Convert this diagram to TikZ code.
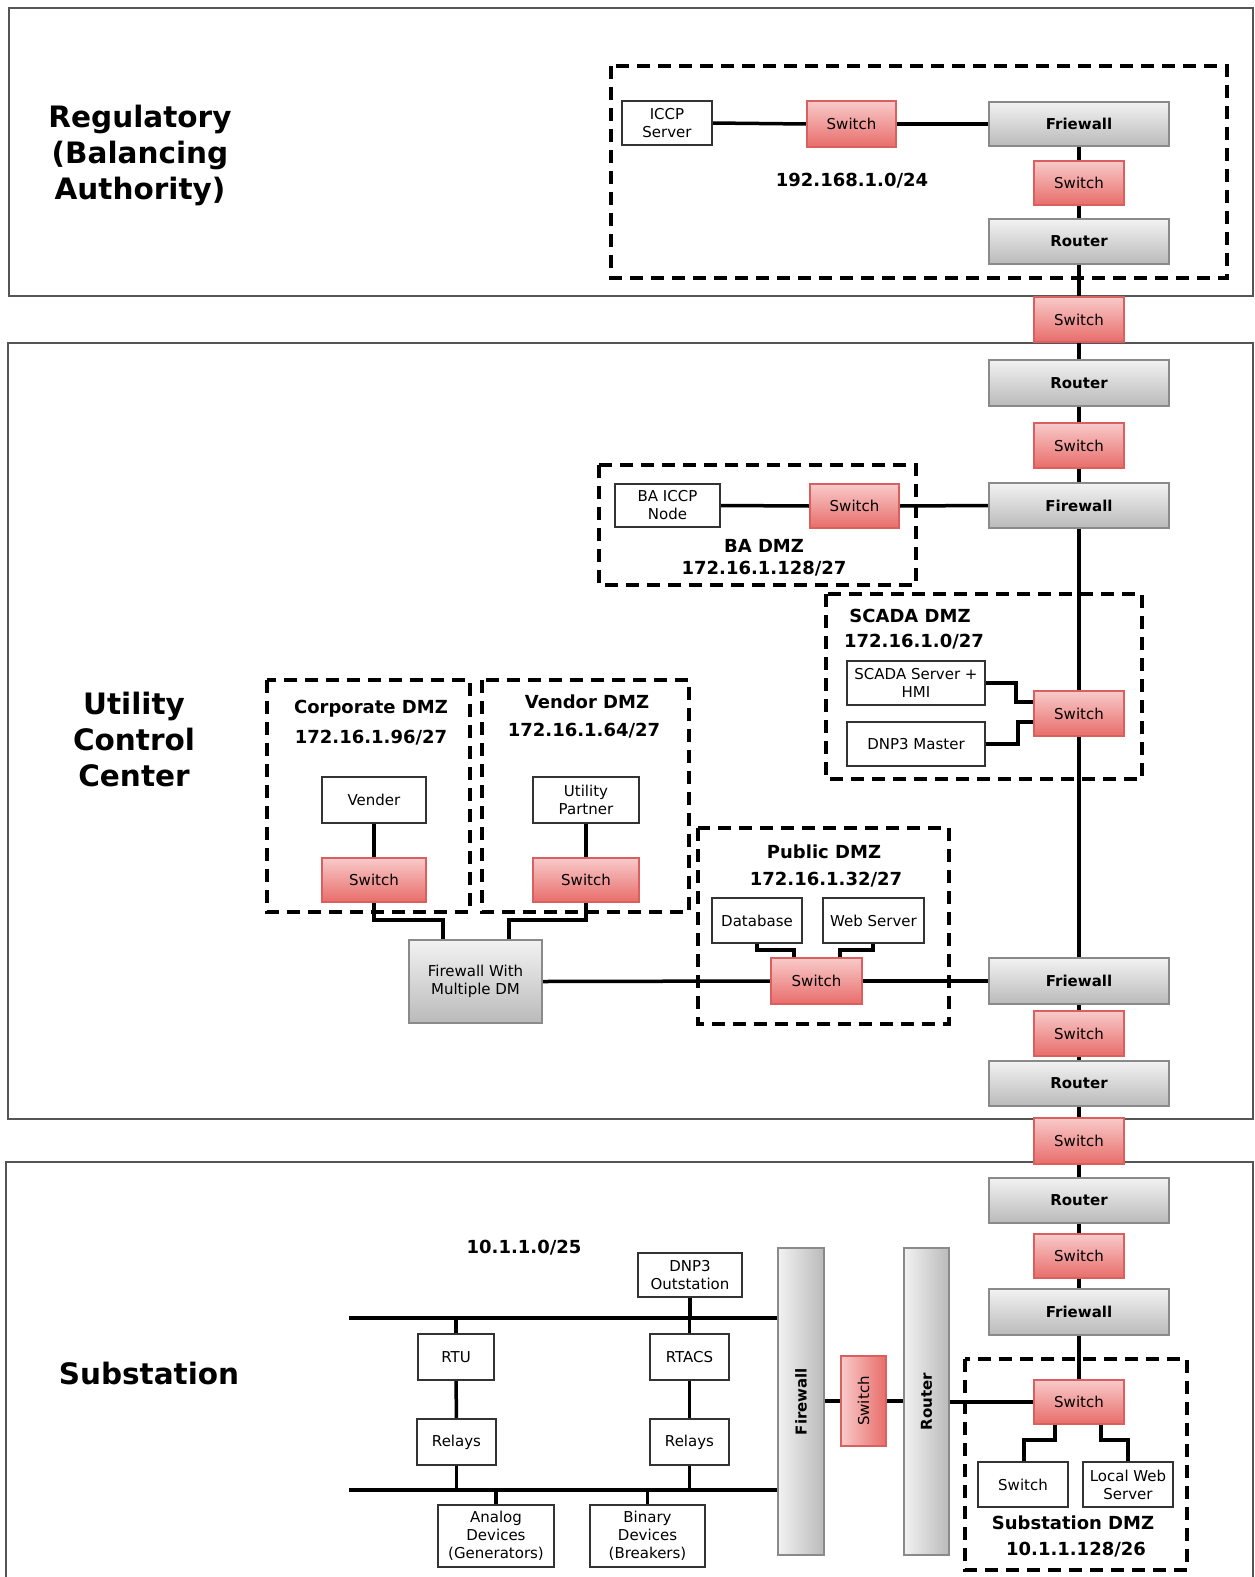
\documentclass[tikz,border=0pt]{standalone}
\usepackage{fontspec}
\setmainfont{DejaVu Sans}
\usetikzlibrary{calc}
\definecolor{boxline}{HTML}{333333}
\definecolor{redline}{HTML}{D9605E}
\definecolor{redtop}{HTML}{F8CACA}
\definecolor{redbot}{HTML}{E86D6A}
\definecolor{grayline}{HTML}{8A8A8A}
\definecolor{graytop}{HTML}{F2F2F2}
\definecolor{graybot}{HTML}{BABABA}
\definecolor{seccol}{HTML}{555555}
\pgfdeclarelayer{bg}
\pgfsetlayers{bg,main}
% box from its two corners: style, name, x1, y1, x2, y2, text
\newcommand\bx[7]{\node[#1, minimum width={#5-#3}, minimum height={#6-#4}] (#2) at ({(#3+#5)/2},{(#4+#6)/2}) {#7};}
\begin{document}
\begin{tikzpicture}[x=1pt,y=-1pt,
  base/.style={inner sep=0pt, outer sep=0pt, align=center, font=\fontsize{15}{18}\selectfont},
  plain/.style={base, draw=boxline, fill=white, line width=1.1pt},
  redbox/.style={base, draw=redline, top color=redtop, bottom color=redbot, line width=1.1pt},
  redvbox/.style={base, draw=redline, left color=redtop, right color=redbot, line width=1.1pt},
  graybox/.style={base, draw=grayline, top color=graytop, bottom color=graybot, line width=1.1pt, font=\fontsize{15}{18}\selectfont\bfseries},
  grayvbox/.style={base, draw=grayline, left color=graytop, right color=graybot, line width=1.1pt},
  fwmbox/.style={graybox, font=\fontsize{15}{18}\selectfont},
  wire/.style={line width=3.5pt, black},
  zone/.style={line width=3.5pt, dash pattern=on 13pt off 8pt},
  section/.style={draw=seccol, line width=1.3pt},
  title/.style={font=\fontsize{29.5}{36}\selectfont\bfseries, align=center},
  net/.style={font=\fontsize{18}{22}\selectfont\bfseries},
]
\useasboundingbox (0,0) rectangle (1254,1577);

% ---------- sections and zones ----------
\begin{pgfonlayer}{bg}
\draw[section] (9,8) rectangle (1253,296);
\draw[section] (8,343) rectangle (1253,1119);
\draw[section] (6,1162) rectangle (1253,1600);
\draw[zone] (611,66) rectangle (1227,278);
\draw[zone] (599,465) rectangle (916,585);
\draw[zone] (826,594) rectangle (1142,779);
\draw[zone] (267,680) rectangle (470,912);
\draw[zone] (482,680) rectangle (689,912);
\draw[zone] (698,828) rectangle (949,1024);
\draw[zone] (965,1359) rectangle (1187,1570);
\end{pgfonlayer}

% ---------- titles ----------
\node[title] (t1) at (140,155) {Regulatory\\(Balancing\\Authority)};
\node[title] (t2) at (134,739) {Utility\\Control\\Center};
\node[title] (t3) at (149,1373) {Substation};

% ---------- Regulatory ----------
\bx{plain}{iccp}{622}{101}{712}{145}{ICCP\\Server}
\bx{redbox}{sw1}{807}{101}{896}{147}{Switch}
\bx{graybox}{fw1}{989}{102}{1169}{146}{Friewall}
\bx{redbox}{sw2}{1034}{161}{1124}{205}{Switch}
\bx{graybox}{rt1}{989}{219}{1169}{264}{Router}
\node[net] (n1) at (852,181) {192.168.1.0/24};

\bx{redbox}{sw3}{1034}{297}{1124}{342}{Switch}

% ---------- Utility Control Center ----------
\bx{graybox}{rt2}{989}{360}{1169}{406}{Router}
\bx{redbox}{sw4}{1034}{423}{1124}{468}{Switch}
\bx{graybox}{fw2}{989}{483}{1169}{528}{Firewall}

\bx{plain}{baicc}{615}{484}{720}{527}{BA ICCP\\Node}
\bx{redbox}{sw5}{810}{484}{899}{528}{Switch}
\node[net] (n2a) at (764,546) {BA DMZ};
\node[net] (n2b) at (764,569) {172.16.1.128/27};

\node[net] (n3a) at (910,616) {SCADA DMZ};
\node[net] (n3b) at (914,642) {172.16.1.0/27};
\bx{plain}{scada}{847}{661}{985}{705}{SCADA Server +\\HMI}
\bx{plain}{dnpm}{847}{722}{985}{766}{DNP3 Master}
\bx{redbox}{sw6}{1034}{691}{1124}{736}{Switch}

\node[net] (n4a) at (371,709) {Corporate DMZ};
\node[net] (n4b) at (371,738) {172.16.1.96/27};
\bx{plain}{vender}{322}{777}{426}{823}{Vender}
\bx{redbox}{swc}{322}{858}{426}{902}{Switch}

\node[net] (n5a) at (587,702) {Vendor DMZ};
\node[net] (n5b) at (584,731) {172.16.1.64/27};
\bx{plain}{utp}{533}{777}{639}{823}{Utility\\Partner}
\bx{redbox}{swv}{533}{858}{639}{902}{Switch}

\bx{fwmbox}{fwm}{409}{940}{542}{1023}{Firewall With\\Multiple DM}

\node[net] (n6a) at (824,852) {Public DMZ};
\node[net] (n6b) at (826,880) {172.16.1.32/27};
\bx{plain}{db}{712}{898}{802}{943}{Database}
\bx{plain}{web}{823}{898}{924}{943}{Web Server}
\bx{redbox}{swp}{771}{958}{862}{1004}{Switch}

\bx{graybox}{fw3}{989}{958}{1169}{1004}{Friewall}
\bx{redbox}{sw7}{1034}{1011}{1124}{1056}{Switch}
\bx{graybox}{rt3}{989}{1061}{1169}{1106}{Router}

\bx{redbox}{sw8}{1034}{1118}{1124}{1164}{Switch}

% ---------- Substation ----------
\bx{graybox}{rt4}{989}{1178}{1169}{1223}{Router}
\bx{redbox}{sw9}{1034}{1234}{1124}{1278}{Switch}
\bx{graybox}{fw4}{989}{1289}{1169}{1335}{Friewall}
\bx{redbox}{sw10}{1034}{1380}{1124}{1424}{Switch}
\bx{plain}{swl}{978}{1462}{1068}{1507}{Switch}
\bx{plain}{lws}{1083}{1462}{1173}{1507}{Local Web\\Server}
\node[net] (n7a) at (1073,1523) {Substation DMZ};
\node[net] (n7b) at (1076,1550) {10.1.1.128/26};

\bx{grayvbox}{fwv}{778}{1248}{824}{1555}{}
\node[rotate=90, font=\fontsize{15}{18}\selectfont\bfseries] (fwvt) at (fwv.center) {Firewall};
\bx{redvbox}{swv2}{841}{1356}{886}{1446}{}
\node[rotate=90, font=\fontsize{15}{18}\selectfont] (swvt) at (swv2.center) {Switch};
\bx{grayvbox}{rtv}{904}{1248}{949}{1555}{}
\node[rotate=90, font=\fontsize{15}{18}\selectfont\bfseries] (rtvt) at (rtv.center) {Router};

\node[net] (n8) at (524,1248) {10.1.1.0/25};
\bx{plain}{dnpo}{638}{1253}{742}{1297}{DNP3\\Outstation}
\bx{plain}{rtu}{418}{1334}{494}{1380}{RTU}
\bx{plain}{rtacs}{650}{1334}{729}{1380}{RTACS}
\bx{plain}{rl1}{417}{1419}{496}{1465}{Relays}
\bx{plain}{rl2}{650}{1419}{729}{1465}{Relays}
\bx{plain}{ana}{438}{1505}{554}{1567}{Analog\\Devices\\(Generators)}
\bx{plain}{bin}{590}{1505}{705}{1567}{Binary\\Devices\\(Breakers)}

% ---------- connectors ----------
\coordinate (k1) at (374,920);
\coordinate (k2) at (443,920);
\coordinate (k3) at (586,920);
\coordinate (k4) at (509,920);
\coordinate (k5) at (1016,683);
\coordinate (k6) at (1016,702);
\coordinate (k7) at (1018,744);
\coordinate (k8) at (1018,722);
\coordinate (k9) at (757,950);
\coordinate (k10) at (794,950);
\coordinate (k11) at (873,950);
\coordinate (k12) at (840,950);
\coordinate (k13) at (1055,1440);
\coordinate (k14) at (1024,1440);
\coordinate (k15) at (1101,1440);
\coordinate (k16) at (1128,1440);
\coordinate (bus1) at (349,1318);
\coordinate (bus2) at (349,1490);

\begin{pgfonlayer}{bg}
% backbone
\draw[wire] (fw1.south) -- (sw2.north);
\draw[wire] (sw2.south) -- (rt1.north);
\draw[wire] (rt1.south) -- (sw3.north);
\draw[wire] (sw3.south) -- (rt2.north);
\draw[wire] (rt2.south) -- (sw4.north);
\draw[wire] (sw4.south) -- (fw2.north);
\draw[wire] (fw2.south) -- (sw6.north);
\draw[wire] (sw6.south) -- (fw3.north);
\draw[wire] (fw3.south) -- (sw7.north);
\draw[wire] (sw7.south) -- (rt3.north);
\draw[wire] (rt3.south) -- (sw8.north);
\draw[wire] (sw8.south) -- (rt4.north);
\draw[wire] (rt4.south) -- (sw9.north);
\draw[wire] (sw9.south) -- (fw4.north);
\draw[wire] (fw4.south) -- (sw10.north);
% regulatory
\draw[wire] (iccp.east) -- (sw1.west);
\draw[wire] (sw1.east) -- (fw1.west);
% BA DMZ
\draw[wire] (baicc.east) -- (sw5.west);
\draw[wire] (sw5.east) -- (fw2.west);
% SCADA DMZ
\draw[wire] (scada.east |- k5) -- (k5) -- (k6) -- (k6 -| sw6.west);
\draw[wire] (dnpm.east |- k7) -- (k7) -- (k8) -- (k8 -| sw6.west);
% corporate and vendor DMZ
\draw[wire] (vender.south) -- (swc.north);
\draw[wire] (utp.south) -- (swv.north);
\draw[wire] (swc.south -| k1) -- (k1) -- (k2) -- (k2 |- fwm.north);
\draw[wire] (swv.south -| k3) -- (k3) -- (k4) -- (k4 |- fwm.north);
% public DMZ
\draw[wire] (fwm.east) -- (swp.west);
\draw[wire] (swp.east) -- (fw3.west);
\draw[wire] (db.south -| k9) -- (k9) -- (k10) -- (k10 |- swp.north);
\draw[wire] (web.south -| k11) -- (k11) -- (k12) -- (k12 |- swp.north);
% substation
\draw[wire] (fwv.east |- swv2.west) -- (swv2.west);
\draw[wire] (swv2.east) -- (swv2.east -| rtv.west);
\draw[wire] (rtv.east |- sw10.west) -- (sw10.west);
\draw[wire] (sw10.south -| k13) -- (k13) -- (k14) -- (k14 |- swl.north);
\draw[wire] (sw10.south -| k15) -- (k15) -- (k16) -- (k16 |- lws.north);
\draw[wire] (bus1) -- (bus1 -| fwv.west);
\draw[wire] (bus2) -- (bus2 -| fwv.west);
\draw[wire] (dnpo.south) -- (dnpo.south |- bus1);
\draw[wire] (rtu.north) -- (rtu.north |- bus1);
\draw[wire] (rtacs.north) -- (rtacs.north |- bus1);
\draw[wire] (rtu.south) -- (rl1.north);
\draw[wire] (rtacs.south) -- (rl2.north);
\draw[wire] (rl1.south) -- (rl1.south |- bus2);
\draw[wire] (rl2.south) -- (rl2.south |- bus2);
\draw[wire] (ana.north) -- (ana.north |- bus2);
\draw[wire] (bin.north) -- (bin.north |- bus2);
\end{pgfonlayer}
\end{tikzpicture}
\end{document}
